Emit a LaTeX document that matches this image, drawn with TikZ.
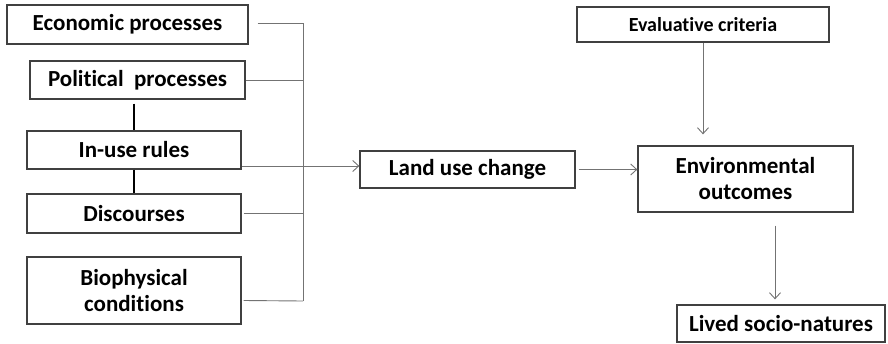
\documentclass[tikz,border=0pt]{standalone}
\usepackage{fontspec}
\setmainfont{Carlito}[Ligatures=NoCommon]
\usetikzlibrary{arrows.meta,positioning}

\begin{document}
\begin{tikzpicture}[x=1pt,y=-1pt,
  box/.style={
   draw=black!75,
   line width=1.3pt,
   inner sep=0pt,
   align=center,
   font=\fontsize{23}{26}\selectfont\bfseries
  },
  link/.style={
    draw=black!55,
    line width=0.9pt
  },
  arr/.style={
    link,
    -{Straight Barb[length=6pt,width=11pt]}
  },
  tie/.style={
    draw=black,
    line width=1.2pt
  }]
	\useasboundingbox (0,0) rectangle (888,343);

	% drivers on the left
	\node[box,minimum width=241pt,minimum height=39pt] at (127.5,24.5)
		  (econ) {Economic processes};
	\node[box,minimum width=215pt,minimum height=38pt] at (137.5,80)
		  (pol) {Political\ \ processes};
	\node[box,minimum width=214pt,minimum height=38pt] at (134,150)
		  (rules) {In-use rules};
	\node[box,minimum width=214pt,minimum height=39pt] at (134,213.5)
		  (disc) {Discourses};
	\node[box,minimum width=214pt,minimum height=67pt] at (134,290.5)
		  (bio) {Biophysical\\conditions};

	% outcomes on the right
	\node[box,minimum width=215pt,minimum height=37pt] at (467.5,169.5)
		  (land) {Land use change};
	\node[box,font=\fontsize{20}{24}\selectfont\bfseries,minimum width=252pt,minimum height=35pt] at (703,24.5)
		  (eval) {Evaluative criteria};
	\node[box,minimum width=215pt,minimum height=66pt] at (745.5,179)
		  (env) {Environmental\\outcomes};
	\node[box,minimum width=208pt,minimum height=37pt] at (781,323.5)
		  (lived) {Lived socio-natures};

	\coordinate (bustop) at (303,23);
	\coordinate (busbot) at (303,301);
	\coordinate (feed) at ([yshift=-16pt]rules.east);

	\draw[link] (bustop) -- (busbot);
	\draw[link] ([xshift=9pt]econ.east |- bustop) -- (bustop);
	\draw[link] (pol.east) -- (pol.east -| bustop);
	\draw[link] ([xshift=2pt]disc.east) -- (disc.east -| bustop);
	\draw[link] ([xshift=2pt,yshift=-10pt]bio.east) -- (busbot);
	\draw[arr] (feed) -- (feed -| land.west);

	\draw[tie] ([yshift=-4pt]rules.north |- pol.south) -- (rules.north);
	\draw[tie] (rules.south) -- (disc.north);

	\draw[arr] ([xshift=3pt]land.east) -- (land.east -| env.west);
	\draw[arr] (eval.south) -- ([yshift=11pt]env.north -| eval.south);
	\draw[arr] ([xshift=29.5pt,yshift=-13pt]env.south) -- ([xshift=-6pt,yshift=5pt]lived.north);
\end{tikzpicture}
\end{document}
